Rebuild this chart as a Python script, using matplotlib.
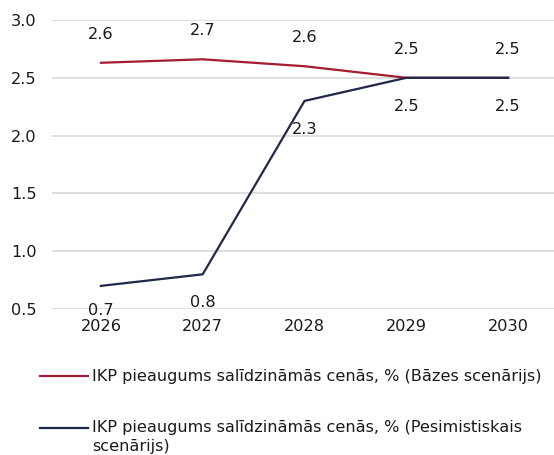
import matplotlib
matplotlib.use("Agg")
import matplotlib.pyplot as plt
from matplotlib.lines import Line2D

years = ["2026", "2027", "2028", "2029", "2030"]
base = [2.63, 2.66, 2.60, 2.50, 2.50]
base_labels = ["2.6", "2.7", "2.6", "2.5", "2.5"]
pess = [0.70, 0.80, 2.30, 2.50, 2.50]
pess_labels = ["0.7", "0.8", "2.3", "2.5", "2.5"]
yticks = [0.5, 1.0, 1.5, 2.0, 2.5, 3.0]
legend_labels = ["IKP pieaugums salīdzināmās cenās, % (Bāzes scenārijs)",
                 "IKP pieaugums salīdzināmās cenās, % (Pesimistiskais\nscenārijs)"]

red = "#A51C30"
navy = "#1E2847"
fs = 11.6

plt.rcParams['font.family'] = ['DejaVu Sans']
fig = plt.figure(figsize=(5.54, 4.55), dpi=100)
W, H = 554, 455
ax = fig.add_axes([52 / W, 1 - 309 / H, (554 - 52) / W, (309 - 20) / H])
x = list(range(len(years)))
ax.plot(x, base, color=red, lw=1.6, zorder=3)
ax.plot(x, pess, color=navy, lw=1.6, zorder=3)
for xi, v, t in zip(x, base, base_labels):
    ax.annotate(t, (xi, v), xytext=(0, 20.5), textcoords="offset points",
                ha="center", va="center", fontsize=fs, color="#1a1a1a")
for i, (xi, v, t) in enumerate(zip(x, pess, pess_labels)):
    off = -18 if i == 0 else -20.5
    ax.annotate(t, (xi, v), xytext=(0, off), textcoords="offset points",
                ha="center", va="center", fontsize=fs, color="#1a1a1a")
ax.set_ylim(0.5, 3.0)
ax.set_yticks(yticks)
ax.set_yticklabels([f"{t:.1f}" for t in yticks])
ax.set_xlim(-0.48, 4.45)
ax.set_xticks(x)
ax.set_xticklabels(years)
ax.grid(axis="y", color="#d9d9d9", lw=1.2)
ax.set_axisbelow(True)
for s in ax.spines.values():
    s.set_visible(False)
ax.tick_params(axis="both", length=0, labelsize=fs, colors="#1a1a1a")
ax.tick_params(axis="y", pad=11)
ax.tick_params(axis="x", pad=7)

# legend
fig.add_artist(Line2D([40 / W, 88 / W], [1 - 376 / H] * 2, color=red, lw=1.6,
                      transform=fig.transFigure))
fig.text(92 / W, 1 - 376 / H, legend_labels[0], fontsize=fs, va="center",
         ha="left", color="#1a1a1a")
fig.add_artist(Line2D([40 / W, 88 / W], [1 - 428 / H] * 2, color=navy, lw=1.6,
                      transform=fig.transFigure))
fig.text(92 / W, 1 - 420 / H, legend_labels[1], fontsize=fs, va="top",
         ha="left", color="#1a1a1a", linespacing=1.3)

fig.savefig("out.png", dpi=100)
